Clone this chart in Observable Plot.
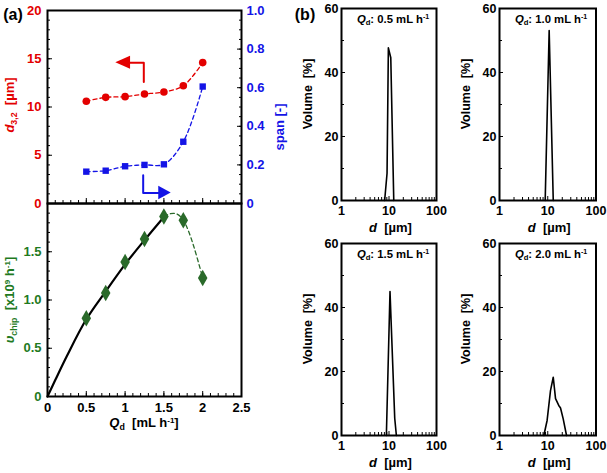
<!DOCTYPE html>
<html><head><meta charset="utf-8">
<script src="https://cdn.jsdelivr.net/npm/d3@7"></script>
<script src="https://cdn.jsdelivr.net/npm/@observablehq/plot@0.6"></script>
<style>
body{margin:0;background:#fff;}
#c{position:relative;width:607px;height:473px;overflow:hidden;background:#fff;font-family:"Liberation Sans",Arial,sans-serif;font-weight:bold;}
#c svg{position:absolute;left:0;top:0;}
.lbl{position:absolute;white-space:nowrap;transform:translate(-50%,-50%);line-height:1;}
.rot{transform:translate(-50%,-50%) rotate(-90deg);}
.sb{font-size:0.68em;vertical-align:-0.3em;}
.sp{font-size:0.62em;vertical-align:0.5em;}
</style></head><body><div id="c"></div><script>
// ---- Panel (a) data ----
const Qd = [0.5, 0.75, 1.0, 1.25, 1.5, 1.75, 2.0];
const d32 = [10.6, 11.0, 11.07, 11.35, 11.56, 12.2, 14.6];
const spanV = [0.165, 0.17, 0.193, 0.2, 0.203, 0.32, 0.606];
const vchip = [0.81, 1.073, 1.393, 1.632, 1.865, 1.827, 1.229];
const fitQ = [0, 0.1, 0.25, 0.5, 0.75, 1.0, 1.25, 1.5];
const fitV = [0, 0.17, 0.42, 0.8, 1.09, 1.37, 1.62, 1.86];
// arrows (annotation geometry in data units)
const redArrowQ = [1.241, 1.241, 1.06];
const redArrowD = [12.6, 14.58, 14.58];
const redHeadQ = [0.88, 1.07];
const redHeadC = 14.58, redHeadH = 0.68;
const blueArrowQ = [1.233, 1.233, 1.44];
const blueArrowS = [0.146, 0.054, 0.054];
const blueHeadQ = [1.594, 1.434];
const blueHeadC = 0.054, blueHeadH = 0.035;
// ---- Panel (b) data ----
const dist05_d = [8.1, 9.1, 9.7, 10.9, 12.6];
const dist05_v = [0, 8.5, 47.7, 44.6, 0];
const dist10_d = [8.85, 10.7, 13.0];
const dist10_v = [0, 53.1, 0];
const dist15_d = [8.8, 10.5, 13.2, 14.3];
const dist15_v = [0, 45, 5.4, 0];
const dist20_d = [8.3, 9.7, 11.4, 13.0, 14.5, 16.9, 18.4, 20.9, 24.5];
const dist20_v = [0, 4.7, 14, 18.2, 11.5, 9.4, 8.6, 5.2, 0];
const distLabels = ["0.5", "1.0", "1.5", "2.0"];

const RED = "#e30000", BLUE = "#1414e6", GREEN = "#1f7a1f", GREEN_M = "#2a6a2a";
const W = 607, H = 473;
const c = document.getElementById("c");
const zip = (a, b) => a.map((x, i) => ({x, y: b[i]}));
const range = (a, b, s) => d3.range(0, Math.round((b - a) / s) + 1).map(i => +(a + i * s).toFixed(6));

function layer(opts, fs = 13) {
  const svg = Plot.plot({width: W, height: H,
    style: {background: "transparent", fontFamily: "'Liberation Sans', Arial, sans-serif", fontWeight: "bold", fontSize: fs + "px", overflow: "visible"},
    ...opts});
  c.append(svg);
}
function html(x, y, inner, color = "#000", size = 13, rot = false) {
  const d = document.createElement("div");
  d.className = "lbl" + (rot ? " rot" : "");
  d.style.left = x + "px"; d.style.top = y + "px"; d.style.color = color; d.style.fontSize = size + "px";
  d.innerHTML = inner;
  c.append(d);
}

// Top panel (a): d3,2 (left axis)
const mTop = {marginLeft: 47, marginRight: W - 241, marginTop: 10, marginBottom: H - 203};
layer({...mTop, x: {domain: [0, 2.5]}, y: {domain: [0, 20]}, marks: [
  Plot.axisY(range(0, 20, 1), {tickSize: -3, fill: "none", label: null}),
  Plot.axisY(range(0, 20, 5), {tickSize: -5, fill: "none", label: null}),
  Plot.axisY(range(0, 20, 5), {tickSize: 0, tickPadding: 6, color: RED, label: null, tickFormat: d => String(d)}),
  Plot.axisX(range(0, 2.5, 0.1), {tickSize: -3, fill: "none", label: null}),
  Plot.axisX(range(0, 2.5, 0.5), {tickSize: -5, fill: "none", label: null}),
  Plot.line(zip(Qd, d32), {x: "x", y: "y", stroke: RED, strokeWidth: 1.3, strokeDasharray: "4,3", curve: "catmull-rom"}),
  Plot.dot(zip(Qd, d32), {x: "x", y: "y", fill: RED, r: 3.8}),
  Plot.line(zip(redArrowQ, redArrowD), {x: "x", y: "y", stroke: RED, strokeWidth: 2}),
  Plot.areaY([{x: redHeadQ[0], y1: redHeadC, y2: redHeadC}, {x: redHeadQ[1], y1: redHeadC - redHeadH, y2: redHeadC + redHeadH}], {x: "x", y1: "y1", y2: "y2", fill: RED}),
  Plot.frame({strokeWidth: 2})
]});
// Top panel (a): span (right axis)
layer({...mTop, x: {domain: [0, 2.5], axis: null}, y: {domain: [0, 1]}, marks: [
  Plot.axisY(range(0, 1, 0.05), {anchor: "right", tickSize: -3, fill: "none", label: null}),
  Plot.axisY(range(0, 1, 0.2), {anchor: "right", tickSize: -5, fill: "none", label: null}),
  Plot.axisY(range(0, 1, 0.2), {anchor: "right", tickSize: 0, tickPadding: 5, color: BLUE, label: null, tickFormat: d => d === 0 ? "0" : d.toFixed(1)}),
  Plot.line(zip(Qd, spanV), {x: "x", y: "y", stroke: BLUE, strokeWidth: 1.3, strokeDasharray: "4,3", curve: "catmull-rom"}),
  Plot.dot(zip(Qd, spanV), {x: "x", y: "y", fill: BLUE, symbol: "square", r: 3.6}),
  Plot.line(zip(blueArrowQ, blueArrowS), {x: "x", y: "y", stroke: BLUE, strokeWidth: 2}),
  Plot.areaY([{x: blueHeadQ[1], y1: blueHeadC - blueHeadH, y2: blueHeadC + blueHeadH}, {x: blueHeadQ[0], y1: blueHeadC, y2: blueHeadC}], {x: "x", y1: "y1", y2: "y2", fill: BLUE})
]});
// Bottom panel (a): v_chip
layer({marginLeft: 47, marginRight: W - 241, marginTop: 203, marginBottom: H - 396,
  x: {domain: [0, 2.5]}, y: {domain: [0, 2]}, marks: [
  Plot.axisY(range(0, 2, 0.1), {tickSize: -3, fill: "none", label: null}),
  Plot.axisY(range(0, 2, 0.5), {tickSize: -5, fill: "none", label: null}),
  Plot.axisY(range(0, 1.5, 0.5), {tickSize: 0, tickPadding: 6, color: GREEN, label: null, tickFormat: d => d === 0 ? "0" : d.toFixed(1)}),
  Plot.axisX(range(0, 2.5, 0.1), {tickSize: -3, fill: "none", label: null}),
  Plot.axisX(range(0, 2.5, 0.5), {tickSize: -5, fill: "none", label: null}),
  Plot.axisX(range(0, 2.5, 0.5), {tickSize: 0, tickPadding: 6, label: null, tickFormat: d => String(d)}),
  Plot.line(zip(fitQ, fitV), {x: "x", y: "y", stroke: "#000", strokeWidth: 2.2, curve: "catmull-rom"}),
  Plot.line(zip(Qd.slice(4), vchip.slice(4)), {x: "x", y: "y", stroke: GREEN_M, strokeWidth: 1.3, strokeDasharray: "4,3", curve: "natural"}),
  Plot.dot(zip(Qd, vchip), {x: "x", y: "y", fill: GREEN_M, symbol: "diamond", r: 5}),
  Plot.frame({strokeWidth: 2})
]});

// Panel (b)
const boxes = [
  {l: 341, r: 436, t: 8, b: 200, d: dist05_d, v: dist05_v},
  {l: 499, r: 595.5, t: 8, b: 200, d: dist10_d, v: dist10_v},
  {l: 341, r: 436, t: 243, b: 435, d: dist15_d, v: dist15_v},
  {l: 499, r: 595.5, t: 243, b: 435, d: dist20_d, v: dist20_v}
];
const minorLog = [2, 3, 4, 5, 6, 7, 8, 9, 20, 30, 40, 50, 60, 70, 80, 90];
boxes.forEach((bx, i) => {
  layer({marginLeft: bx.l, marginRight: W - bx.r, marginTop: bx.t, marginBottom: H - bx.b,
    x: {type: "log", domain: [1, 100]}, y: {domain: [0, 60]}, marks: [
    Plot.axisY([10, 30, 50], {tickSize: -3, fill: "none", label: null}),
    Plot.axisY([0, 20, 40, 60], {tickSize: -4, fill: "none", label: null}),
    Plot.axisY([0, 20, 40, 60], {tickSize: 0, tickPadding: 3, label: null, tickFormat: d => String(d)}),
    Plot.axisX(minorLog, {tickSize: -3, fill: "none", label: null}),
    Plot.axisX([1, 10, 100], {tickSize: -4, fill: "none", label: null}),
    Plot.axisX([1, 10, 100], {tickSize: 0, tickPadding: 6, label: null, tickFormat: d => String(d)}),
    Plot.line(zip(bx.d, bx.v), {x: "x", y: "y", stroke: "#000", strokeWidth: 1.6}),
    Plot.frame({strokeWidth: 2})
  ]}, 12.5);
  const cx = (bx.l + bx.r) / 2;
  html(bx.l - 33, bx.t + 86, "Volume&nbsp;&nbsp;[%]", "#000", 12.5, true);
  html(cx + 2, bx.b + 27, "<i>d</i>&nbsp;&nbsp;[µm]", "#000", 13);
  html(bx.l + 12 + 40, bx.t + 12, `<i>Q</i><span class="sb">d</span>: ${distLabels[i]} mL h<span class="sp">-1</span>`, "#000", 11.3);
});

// Panel (a) text
html(13, 15, "(a)", "#000", 16);
html(305, 15, "(b)", "#000", 16);
html(11, 105, "<i>d</i><span class=\"sb\">3,2</span>&nbsp;&nbsp;[µm]", RED, 13, true);
html(279, 127, "span [-]", BLUE, 13, true);
html(11, 300, "<i>υ</i><span class=\"sb\">chip</span>&nbsp;&nbsp;[x10<span class=\"sp\">9</span> h<span class=\"sp\">-1</span>]", GREEN, 13, true);
html(144, 424, "<i>Q</i><span class=\"sb\">d</span>&nbsp;&nbsp;[mL h<span class=\"sp\">-1</span>]", "#000", 13);
</script></body></html>
